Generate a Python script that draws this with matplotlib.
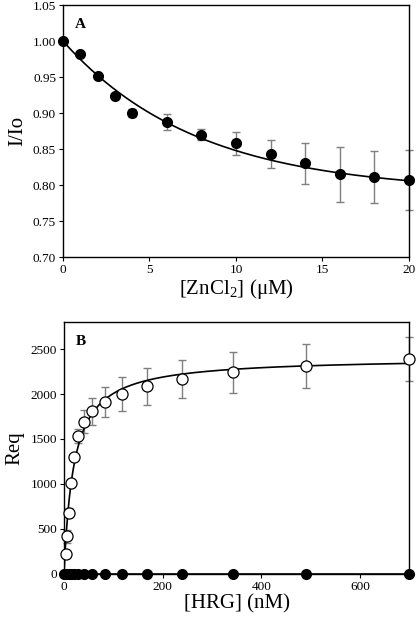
import numpy as np
import matplotlib
matplotlib.use("Agg")
import matplotlib.pyplot as plt

plt.rcParams["font.family"] = ["Liberation Serif", "DejaVu Serif"]
plt.rcParams["mathtext.fontset"] = "custom"
plt.rcParams["mathtext.rm"] = "Liberation Serif"

# Panel A: quenching by ZnCl2
zn_conc = [0, 1, 2, 3, 4, 6, 8, 10, 12, 14, 16, 18, 20]
zn_ratio = [1.000, 0.982, 0.951, 0.923, 0.900, 0.888, 0.870, 0.858, 0.843,
            0.830, 0.815, 0.811, 0.807]
zn_err = [0.0, 0.0, 0.0, 0.0, 0.005, 0.011, 0.008, 0.016, 0.020, 0.029,
          0.038, 0.036, 0.042]
# fitted single-exponential decay: y = y_inf + amp * exp(-k x)
fit_a = {"y_inf": 0.79, "amp": 0.21, "k": 0.129}

# Panel B: SPR binding of HRG
hrg_conc = [3.4, 6.8, 9.7, 13.8, 19.8, 28.2, 40.4, 57.6, 82.4, 117.6, 168,
            240, 343, 490, 700]
req_open = [226, 419, 678, 1011, 1304, 1533, 1693, 1807, 1908, 2003, 2085,
            2167, 2241, 2311, 2388]
req_err = [0, 70, 50, 0, 0, 82, 130, 146, 166, 189, 209, 210, 228, 245, 248]
hrg_conc_filled = [0] + hrg_conc
req_filled = [0] * len(hrg_conc_filled)
# fitted hyperbola: y = bmax * x / (kd + x)
fit_b = {"bmax": 2407, "kd": 20}

fig = plt.figure(figsize=(4.16, 6.22), dpi=100)
ax1 = fig.add_axes([0.1514, 0.5868, 0.8317, 0.4051])
ax2 = fig.add_axes([0.1538, 0.0772, 0.8305, 0.4051])

err_color = "#7f7f7f"

# ---- panel A ----
xa = np.linspace(0, 20, 200)
ax1.plot(xa, fit_a["y_inf"] + fit_a["amp"] * np.exp(-fit_a["k"] * xa),
         color="black", lw=1.2, zorder=2)
ax1.errorbar(zn_conc, zn_ratio, yerr=zn_err, fmt="none", ecolor=err_color,
             elinewidth=1.0, capsize=3, capthick=1.0, zorder=1, clip_on=False)
ax1.plot(zn_conc, zn_ratio, "o", color="black", ms=7, zorder=3, clip_on=False)
ax1.set_xlim(0, 20)
ax1.set_ylim(0.70, 1.05)
ax1.set_xticks([0, 5, 10, 15, 20])
ax1.set_yticks(np.arange(0.70, 1.051, 0.05))
ax1.set_yticklabels(["%.2f" % v for v in np.arange(0.70, 1.051, 0.05)])
ax1.set_xlabel("[ZnCl$_\\mathregular{2}$] (\u03bcM)", fontsize=15, labelpad=1)
ax1.set_ylabel("I/Io", fontsize=15, labelpad=4)
ax1.text(0.035, 0.91, "A", transform=ax1.transAxes, fontsize=11,
         fontweight="bold")

# ---- panel B ----
xb = np.linspace(0, 700, 800)
ax2.plot(xb, fit_b["bmax"] * xb / (fit_b["kd"] + xb), color="black", lw=1.2,
         zorder=2)
ax2.errorbar(hrg_conc, req_open, yerr=req_err, fmt="none", ecolor=err_color,
             elinewidth=1.0, capsize=3, capthick=1.0, zorder=1, clip_on=False)
ax2.plot(hrg_conc, req_open, "o", mfc="white", mec="black", mew=0.9, ms=8,
         zorder=3, clip_on=False)
ax2.plot(hrg_conc_filled, req_filled, "-o", color="black", lw=1.2, ms=7,
         zorder=3, clip_on=False)
ax2.set_xlim(0, 700)
ax2.set_ylim(0, 2800)
ax2.set_xticks([0, 200, 400, 600])
ax2.set_yticks([0, 500, 1000, 1500, 2000, 2500])
ax2.set_xlabel("[HRG] (nM)", fontsize=15, labelpad=1)
ax2.set_ylabel("Req", fontsize=15, labelpad=4)
ax2.text(0.035, 0.91, "B", transform=ax2.transAxes, fontsize=11,
         fontweight="bold")

for ax in (ax1, ax2):
    ax.tick_params(direction="out", length=3, width=0.8, labelsize=9.5,
                   top=False, right=False, pad=2)
    for sp in ax.spines.values():
        sp.set_linewidth(1.0)

fig.savefig("out.png", dpi=100)
